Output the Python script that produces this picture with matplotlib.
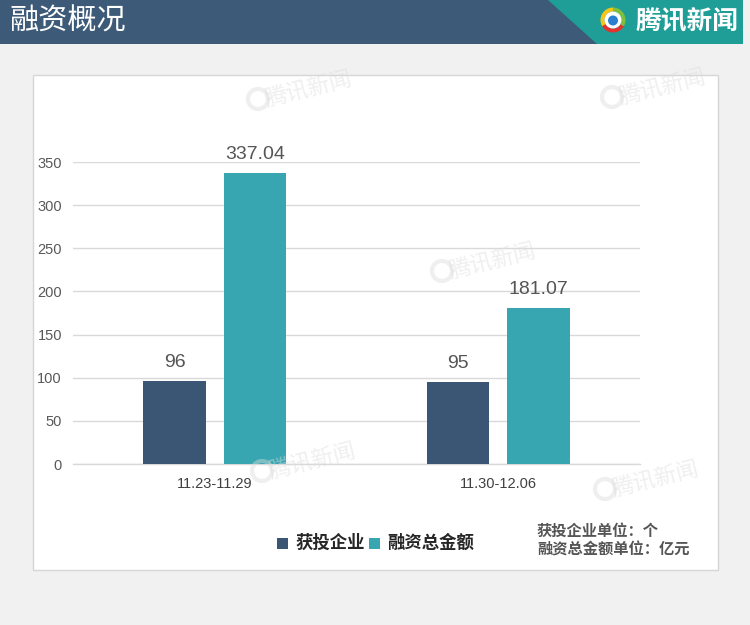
import matplotlib
matplotlib.use("Agg")
import matplotlib.pyplot as plt
from matplotlib.patches import Rectangle, Polygon, Circle, Wedge

plt.rcParams['font.family'] = ['Noto Sans CJK SC', 'DejaVu Sans']

# data
periods = ["11.23-11.29", "11.30-12.06"]
companies = [96, 95]             # 获投企业 (个)
amounts = [337.04, 181.07]       # 融资总金额 (亿元)
series_names = ["获投企业", "融资总金额"]
yticks = [0, 50, 100, 150, 200, 250, 300, 350]
title = "融资概况"
brand = "腾讯新闻"
unit_lines = ["获投企业单位：个", "融资总金额单位：亿元"]

W, H = 750, 625
DARK = "#3a5674"
TEAL = "#37a6b1"
NUM_FONT = ["Liberation Sans", "DejaVu Sans"]

fig = plt.figure(figsize=(W / 100, H / 100), dpi=100)
fig.patch.set_facecolor("#f1f1f1")
T = fig.dpi_scale_trans


def P(x, y):
    """pixel position (from top-left) -> inches for dpi_scale_trans"""
    return (x / 100, (H - y) / 100)


def F(x, y):
    """pixel position (from top-left) -> figure fraction"""
    return (x / W, 1 - y / H)


# header band
fig.patches.append(Rectangle(P(0, 44), W / 100, 44 / 100, transform=T,
                             facecolor="#3d5a78", edgecolor="none", zorder=0))
fig.patches.append(Polygon([P(548, 0), P(743, 0), P(743, 44), P(597, 44)],
                           closed=True, transform=T, facecolor="#1f9e97",
                           edgecolor="none", zorder=1))
fig.patches.append(Rectangle(P(743, 44), 7 / 100, 44 / 100, transform=T,
                             facecolor="#f1f1f1", edgecolor="none", zorder=1))
fig.text(*F(9, 22), title, color="white", fontsize=21, va="center", ha="left")

# header logo
cx, cy = P(613, 20)
for a0, a1, c in [(90, 210, "#f3c515"), (210, 330, "#e2322d"), (330, 450, "#7fbf3a")]:
    fig.patches.append(Wedge((cx, cy), 0.125, a0, a1, width=0.04, transform=T,
                             facecolor=c, edgecolor="none", zorder=2))
fig.patches.append(Circle((cx, cy), 0.085, transform=T, facecolor="white",
                          edgecolor="none", zorder=2))
fig.patches.append(Circle((cx, cy - 0.005), 0.05, transform=T, facecolor="#2b7fd1",
                          edgecolor="none", zorder=3))
fig.text(*F(687, 22), brand, color="white", fontsize=18.5, fontweight="bold",
         va="center", ha="center", fontstyle="italic")

# white panel
fig.patches.append(Rectangle(P(33, 570), (718 - 33) / 100, (570 - 75) / 100,
                             transform=T, facecolor="white", edgecolor="#d6d6d6",
                             linewidth=1, zorder=1))

# chart axes
ax = fig.add_axes([73 / W, (H - 464) / H, (640 - 73) / W, (464 - 162) / H])
ax.set_facecolor("none")
ax.set_zorder(3)
ax.set_xlim(-0.5, 1.5)
ax.set_ylim(0, 350)
ax.set_yticks(yticks)
ax.set_yticklabels([str(v) for v in yticks], fontfamily=NUM_FONT,
                   fontsize=10.5, color="#595959")
ax.set_xticks(range(len(periods)))
ax.set_xticklabels(periods, fontfamily=NUM_FONT, fontsize=10.5, color="#404040")
ax.tick_params(axis="both", length=0)
ax.tick_params(axis="y", pad=8)
ax.tick_params(axis="x", pad=9)
for s in ax.spines.values():
    s.set_visible(False)
ax.grid(axis="y", color="#d9d9d9", linewidth=1)
ax.axhline(0, color="#d9d9d9", linewidth=1, clip_on=False, zorder=1)
ax.set_axisbelow(True)

x = list(range(len(periods)))
bw, off = 0.22, 0.142
b1 = ax.bar([i - off for i in x], companies, width=bw, color=DARK, zorder=2)
b2 = ax.bar([i + off for i in x], amounts, width=bw, color=TEAL, zorder=2)
for bars, vals in [(b1, companies), (b2, amounts)]:
    for rect, v in zip(bars, vals):
        ax.annotate(f"{v:g}" if isinstance(v, int) else f"{v:.2f}",
                    (rect.get_x() + rect.get_width() / 2, v),
                    xytext=(0, 7), textcoords="offset points", ha="center",
                    va="bottom", fontsize=14, color="#555555",
                    fontfamily=NUM_FONT, annotation_clip=False)

# legend
for sx, col, tx, name in [(277, DARK, 295, series_names[0]),
                          (369, TEAL, 387, series_names[1])]:
    fig.patches.append(Rectangle(P(sx, 549), 11 / 100, 11 / 100, transform=T,
                                 facecolor=col, edgecolor="none", zorder=4))
    fig.text(*F(tx, 543), name, fontsize=12.5, fontweight="bold",
             color="#262626", va="center", ha="left", zorder=4)

# unit notes
fig.text(*F(537, 531), unit_lines[0], fontsize=11, fontweight="bold",
         color="#555555", va="center", ha="left", zorder=4)
fig.text(*F(537, 550), unit_lines[1], fontsize=11, fontweight="bold",
         color="#555555", va="center", ha="left", zorder=4)

# faint brand watermarks
for wx, wy in [(308, 90), (662, 88), (492, 262), (312, 462), (655, 480)]:
    fig.text(*F(wx, wy), brand, fontsize=16, color="#dcdcdc", alpha=0.45,
             rotation=14, va="center", ha="center", fontstyle="italic", zorder=5)
    c = P(wx - 50, wy + 9)
    fig.patches.append(Circle(c, 0.1, transform=T, facecolor="none",
                              edgecolor="#dcdcdc", linewidth=3, alpha=0.45, zorder=5))

fig.savefig("out.png", dpi=100, facecolor=fig.get_facecolor())
